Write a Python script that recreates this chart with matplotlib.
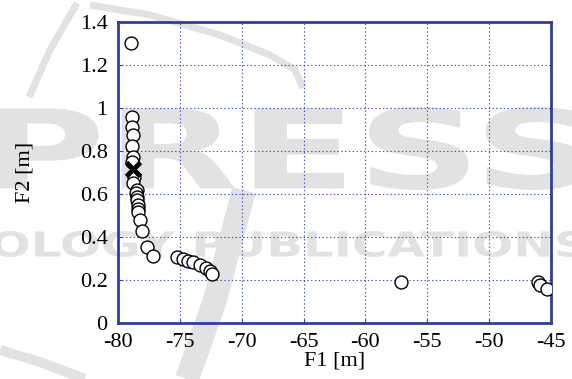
import matplotlib
matplotlib.use("Agg")
import matplotlib.pyplot as plt
from matplotlib.textpath import TextPath
from matplotlib.patches import PathPatch
from matplotlib.font_manager import FontProperties
from matplotlib.transforms import Affine2D
import numpy as np

plt.rcParams["axes.unicode_minus"] = False

# ---- data ----
f1 = [-78.97, -78.89, -78.84, -78.76, -78.87, -78.81, -78.85, -78.70, -78.76,
      -78.50, -78.54, -78.44, -78.45, -78.41, -78.38, -78.36, -78.22, -78.04,
      -77.68, -77.19, -75.25, -74.72, -74.32, -73.91, -73.37, -72.89, -72.56,
      -72.43, -57.15, -46.03, -45.89, -45.35]
f2 = [1.304, 0.960, 0.913, 0.874, 0.823, 0.774, 0.750, 0.680, 0.650,
      0.620, 0.606, 0.587, 0.570, 0.549, 0.530, 0.518, 0.479, 0.428,
      0.355, 0.312, 0.308, 0.298, 0.290, 0.285, 0.270, 0.255, 0.240,
      0.229, 0.192, 0.192, 0.177, 0.157]
best_f1 = [-78.80]
best_f2 = [0.714]

xticks = [-80, -75, -70, -65, -60, -55, -50, -45]
yticks = [0, 0.2, 0.4, 0.6, 0.8, 1.0, 1.2, 1.4]
ytick_labels = ["0", "0.2", "0.4", "0.6", "0.8", "1", "1.2", "1.4"]

W, H = 572, 379
fig = plt.figure(figsize=(W / 100, H / 100), dpi=100)
fig.patch.set_facecolor("white")

wm = "#e2e2e2"

def wm_text(s, x0, x1, ytop, ybot):
    tp = TextPath((0, 0), s, size=100, prop=FontProperties(family="DejaVu Sans", weight="bold"))
    ext = tp.get_extents()
    sx = (x1 - x0) / ext.width / W
    sy = (ybot - ytop) / ext.height / H
    tr = (Affine2D().translate(-ext.x0, -ext.y0).scale(sx, sy)
          .translate(x0 / W, 1 - ybot / H) + fig.transFigure)
    fig.patches.append(PathPatch(tp, facecolor=wm, edgecolor="none", transform=tr, zorder=-5))

def wm_curve(pts, lw_px):
    xs = [p[0] / W for p in pts]
    ys = [1 - p[1] / H for p in pts]
    fig.lines.append(plt.Line2D(xs, ys, color=wm, lw=lw_px * 0.72, transform=fig.transFigure,
                                zorder=-5, solid_capstyle="butt"))

wm_text("PRESS", -5, 585, 107, 190)
wm_text("OLOGY PUBLICATIONS", -8, 585, 231, 257)
wm_curve([(29, 97), (50, 50), (77, 3)], 7)
wm_curve([(90, 5), (150, 15), (220, 35), (270, 55), (295, 70), (303, 88)], 7)
wm_curve([(187, 379), (215, 300), (244, 190)], 24)
wm_curve([(0, 350), (40, 362), (85, 379)], 10)

ax = fig.add_axes([118 / W, 1 - 323 / H, (551 - 118) / W, (323 - 22) / H])
ax.patch.set_alpha(0)

navy = "#2f3f99"
gridc = "#3a4fc0"

ax.plot(f1, f2, linestyle="none", marker="o", ms=9.3, mfc="white", mec="black", mew=1.0, zorder=3)
ax.plot(best_f1, best_f2, linestyle="none", marker="x", ms=10, mec="black", mew=3.5, zorder=4)

ax.set_xlim(-80, -45)
ax.set_ylim(0, 1.4)
ax.set_xticks(xticks)
ax.set_yticks(yticks)
ax.set_yticklabels(ytick_labels)
ax.grid(True, color=gridc, linestyle=(0, (1.2, 2.2)), linewidth=0.8)
ax.set_axisbelow(True)
for sp in ax.spines.values():
    sp.set_color(navy)
    sp.set_linewidth(2.0)
ax.tick_params(direction="in", length=3, width=0.8, color=navy, labelsize=16)
ax.tick_params(axis="y", pad=7.5)
ax.tick_params(axis="x", pad=7)
for lab in ax.get_xticklabels() + ax.get_yticklabels():
    lab.set_fontfamily("Liberation Serif")
ax.set_xlabel("F1 [m]", fontsize=16, family="Liberation Serif")
ax.set_ylabel("F2 [m]", fontsize=16, family="Liberation Serif")
ax.xaxis.set_label_coords(0.5, -0.096)
ax.yaxis.set_label_coords(-0.192, 0.5)

fig.savefig("out.png", dpi=100)
